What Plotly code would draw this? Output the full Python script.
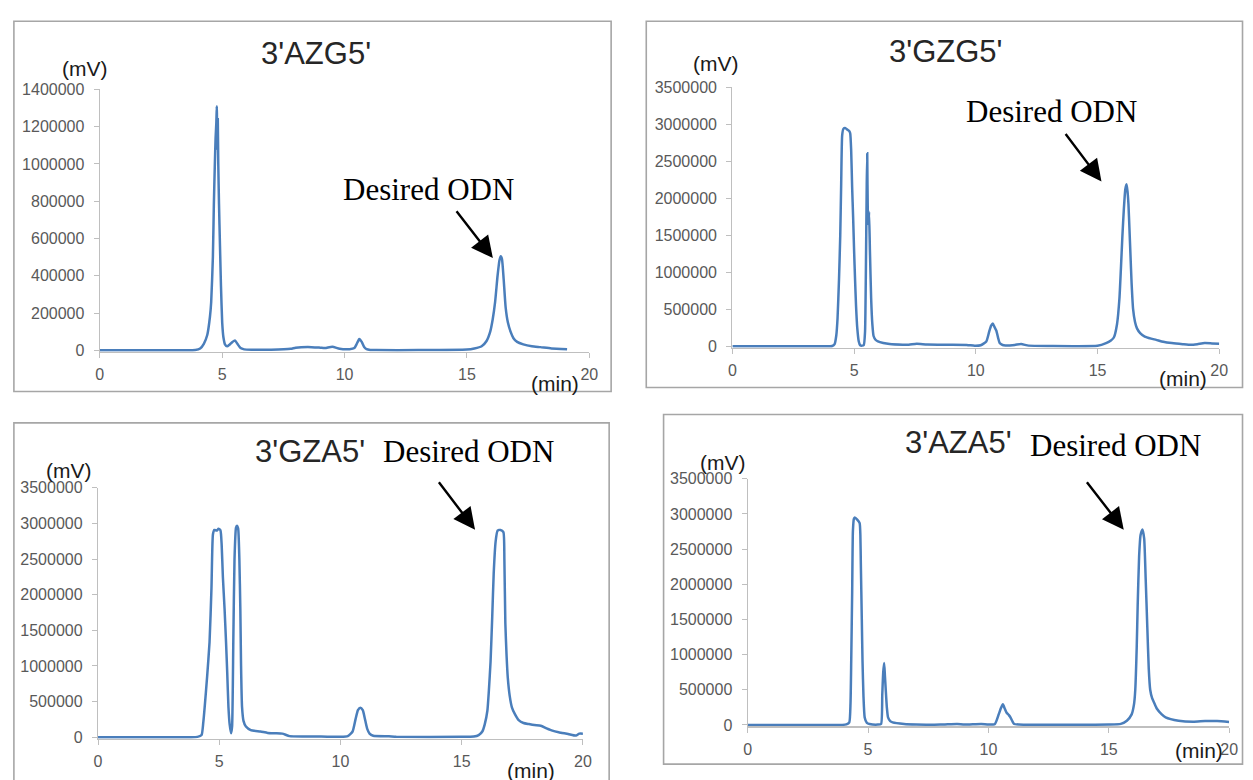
import plotly.graph_objects as go

# ---------------- data ----------------
panel_titles = ["3'AZG5'", "3'GZG5'", "3'GZA5'", "3'AZA5'"]
peak_label = "Desired ODN"
y_unit = "(mV)"
x_unit = "(min)"

x_tick_vals = [0, 5, 10, 15, 20]
x_tick_text = ["0", "5", "10", "15", "20"]
y_ticks_small = [0, 200000, 400000, 600000, 800000, 1000000, 1200000, 1400000]
y_ticks_large = [0, 500000, 1000000, 1500000, 2000000, 2500000, 3000000, 3500000]

azg5_t = [0, 3.5, 3.9, 4.1, 4.25, 4.39, 4.5, 4.55, 4.62, 4.66, 4.7, 4.73, 4.76, 4.78, 4.8, 4.82,
          4.84, 4.87, 4.91, 4.95, 5.0, 5.05, 5.12, 5.2, 5.3, 5.42, 5.52, 5.62, 5.75, 5.9, 6.2,
          7.0, 7.8, 8.0, 8.5, 9.0, 9.2, 9.5, 9.8, 10.2, 10.4, 10.5, 10.6, 10.7, 10.8, 10.9,
          11.05, 11.3, 13.0, 15.0, 15.3, 15.6, 15.8, 15.95, 16.05, 16.15, 16.25, 16.33, 16.38,
          16.43, 16.5, 16.58, 16.67, 16.78, 16.9, 17.05, 17.3, 17.65, 18.0, 18.45, 19.09]
azg5_v = [0, 0, 2000, 10000, 35000, 82000, 180000, 258000, 500000, 785000, 1000000, 1136000,
          1220000, 1310000, 1080000, 1240000, 1000000, 785000, 560000, 346000, 150000, 70000,
          30000, 21000, 30000, 45000, 53000, 35000, 12000, 5000, 3000,
          3000, 8000, 14000, 18000, 14000, 12000, 19000, 8000, 6000, 12000, 35000, 60000, 45000,
          18000, 6000, 2000, 1000, 1000, 4000, 10000, 22000, 50000, 100000, 165000, 260000,
          400000, 485000, 505000, 490000, 380000, 230000, 150000, 100000, 65000, 45000, 32000,
          22000, 17000, 10000, 6000]

gzg5_t = [0, 3.8, 4.1, 4.2, 4.27, 4.32, 4.38, 4.43, 4.47, 4.51, 4.56, 4.63, 4.72, 4.8, 4.84,
          4.88, 4.92, 4.96, 5.0, 5.04, 5.08, 5.13, 5.19, 5.25, 5.33, 5.4, 5.45, 5.49, 5.52, 5.54,
          5.565, 5.59, 5.615, 5.65, 5.7, 5.75, 5.8, 5.88, 5.98, 6.2, 6.46, 7.0, 7.25, 7.57, 8.0,
          8.84, 9.63, 9.95, 10.2, 10.43, 10.55, 10.63, 10.7, 10.77, 10.84, 10.92, 10.98, 11.1,
          11.22, 11.6, 11.86, 12.17, 13.0, 15.0, 15.35, 15.55, 15.67, 15.8, 15.9, 15.96, 16.02,
          16.08, 16.14, 16.19, 16.23, 16.27, 16.31, 16.35, 16.4, 16.46, 16.54, 16.62, 16.75,
          16.94, 17.2, 17.41, 17.7, 18.05, 18.5, 18.84, 19.1, 19.4, 19.7, 20.0]
gzg5_v = [0, 0, 5000, 30000, 150000, 376000, 900000, 1481000, 2200000, 2850000, 2940000,
          2953000, 2930000, 2910000, 2880000, 2650000, 2150000, 1750000, 1300000, 900000, 550000,
          250000, 70000, 15000, 10000, 20000, 200000, 1200000, 2200000, 2610000, 1750000,
          1650000, 1820000, 1300000, 650000, 300000, 140000, 90000, 66000, 45000, 31000, 22000,
          22000, 35000, 25000, 22000, 20000, 8000, 15000, 66000, 200000, 280000, 309000, 260000,
          215000, 110000, 44000, 18000, 13000, 20000, 31000, 10000, 5000, 8000, 44000, 80000,
          120000, 300000, 650000, 1050000, 1481000, 1850000, 2120000, 2190000, 2100000, 1923000,
          1600000, 1260000, 850000, 508000, 330000, 243000, 180000, 133000, 105000, 88000, 62000,
          44000, 30000, 22000, 30000, 44000, 40000, 35000]

gza5_t = [0, 3.8, 4.1, 4.27, 4.34, 4.4, 4.5, 4.6, 4.68, 4.74, 4.8, 4.9, 4.97, 5.05, 5.1, 5.15,
          5.22, 5.28, 5.33, 5.38, 5.43, 5.49, 5.53, 5.58, 5.63, 5.69, 5.73, 5.78, 5.83, 5.87,
          5.9, 5.94, 6.0, 6.1, 6.3, 6.7, 7.0, 7.3, 7.6, 7.9, 8.5, 9.2, 10.0, 10.3, 10.5, 10.62,
          10.72, 10.82, 10.92, 11.0, 11.1, 11.2, 11.35, 12.0, 12.3, 15.0, 15.5, 15.7, 15.85,
          15.95, 16.06, 16.12, 16.19, 16.26, 16.32, 16.4, 16.48, 16.6, 16.72, 16.76, 16.8,
          16.85, 16.9, 16.98, 17.07, 17.2, 17.35, 17.55, 17.77, 18.0, 18.26, 18.5, 18.74, 19.0,
          19.39, 19.71, 19.85, 20.0]
gza5_v = [0, 0, 5000, 30000, 200000, 425000, 850000, 1335000, 2100000, 2850000, 2910000,
          2900000, 2925000, 2905000, 2700000, 2250000, 1800000, 1335000, 900000, 420000, 180000,
          55000, 150000, 1335000, 2500000, 2940000, 2970000, 2930000, 2500000, 1800000, 1000000,
          425000, 230000, 150000, 100000, 80000, 60000, 55000, 50000, 15000, 10000, 10000, 5000,
          15000, 80000, 250000, 380000, 415000, 380000, 270000, 120000, 50000, 20000, 12000,
          5000, 5000, 10000, 30000, 80000, 180000, 375000, 650000, 1060000, 1700000, 2300000,
          2750000, 2900000, 2910000, 2880000, 2500000, 1600000, 1150000, 840000, 580000, 420000,
          320000, 240000, 200000, 184000, 170000, 161000, 125000, 92000, 70000, 46000, 23000,
          50000, 50000]

aza5_t = [0, 3.93, 4.1, 4.22, 4.27, 4.3, 4.34, 4.37, 4.41, 4.45, 4.55, 4.65, 4.68, 4.7, 4.74,
          4.77, 4.81, 4.86, 4.95, 5.06, 5.4, 5.54, 5.59, 5.63, 5.67, 5.7, 5.73, 5.78, 5.83, 5.92,
          6.02, 6.5, 7.0, 8.0, 8.7, 9.0, 9.7, 10.0, 10.27, 10.43, 10.52, 10.6, 10.68, 10.75,
          10.85, 10.91, 11.0, 11.07, 11.5, 15.0, 15.5, 15.75, 15.95, 16.05, 16.1, 16.16, 16.2,
          16.26, 16.32, 16.4, 16.47, 16.53, 16.6, 16.66, 16.72, 16.8, 16.88, 17.0, 17.2, 17.36,
          17.9, 18.5, 19.0, 19.5, 20.0]
aza5_v = [0, 0, 8000, 37000, 300000, 897000, 1900000, 2756000, 2930000, 2950000, 2920000,
          2870000, 2700000, 2290000, 1500000, 897000, 400000, 107000, 30000, 14000, 5000, 14000,
          432000, 750000, 880000, 700000, 525000, 250000, 107000, 55000, 37000, 15000, 8000,
          5000, 15000, 5000, 15000, 5000, 14000, 153000, 240000, 293000, 230000, 176000, 140000,
          110000, 50000, 14000, 3000, 5000, 15000, 60000, 150000, 300000, 500000, 1100000,
          1700000, 2400000, 2700000, 2780000, 2650000, 2100000, 1390000, 800000, 500000, 380000,
          320000, 230000, 150000, 107000, 60000, 45000, 55000, 55000, 42000]

series_t = [azg5_t, gzg5_t, gza5_t, aza5_t]
series_v = [azg5_v, gzg5_v, gza5_v, aza5_v]
series_yticks = [y_ticks_small, y_ticks_large, y_ticks_large, y_ticks_large]

# ---------------- layout geometry (pixels of the 1253x780 page) ----------------
W, H = 1253, 780
BLUE = "#4A7EBB"
AXIS = "#BFBFBF"
TICKFONT = dict(family="Liberation Sans, Arial, sans-serif", size=16, color="#595959")

# per panel: x-pixel of t=0, x-pixel of t=20, y-pixel of v=0, y-pixel of v=max (page pixels)
geom = [
    dict(px0=96.8, px1=591.5, py0=349.0, pym=83.0, box=(10, 13.5, 613.5, 391)),
    dict(px0=736.0, px1=1228.0, py0=345.0, pym=81.0, box=(649, 13.5, 1251.5, 387)),
    dict(px0=95.0, px1=585.0, py0=743.5, pym=489.3, box=(10, 423, 611.5, 795)),
    dict(px0=751.5, px1=1238.0, py0=731.0, pym=480.0, box=(666.5, 414.5, 1251.5, 771)),
]
texts = [
    dict(title=(315, 46), mv=(82, 62), mn=(557, 383), odn=(429, 185), arr=((456.5, 206.7), (494, 255))),
    dict(title=(951, 44), mv=(719, 57), mn=(1191, 378), odn=(1058, 106), arr=((1072, 128), (1109, 177))),
    dict(title=(309, 452), mv=(66, 472), mn=(533, 777), odn=(469, 452), arr=((438.7, 483), (476, 532))),
    dict(title=(965, 443), mv=(727, 463), mn=(1208, 757), odn=(1123, 446), arr=((1093.5, 483), (1131.5, 532))),
]

def px(x):
    return x / W

def py(y):
    return 1 - y / H

fig = go.Figure()
layout = dict(width=W, height=H, margin=dict(l=0, r=0, t=0, b=0),
              paper_bgcolor="white", plot_bgcolor="white", showlegend=False)
shapes = []
annotations = []
PAD = 1.5

for i in range(4):
    g = geom[i]
    ticks = series_yticks[i]
    vmax = ticks[-1]
    per_px = vmax / (g["py0"] - g["pym"])
    lo = -PAD * per_px
    suf = "" if i == 0 else str(i + 1)
    fig.add_trace(go.Scatter(
        x=series_t[i], y=series_v[i], mode="lines",
        line=dict(color=BLUE, width=2.5, shape="spline", smoothing=0.5),
        xaxis="x" + suf, yaxis="y" + suf, hoverinfo="skip"))
    layout["xaxis" + suf] = dict(
        domain=[px(g["px0"]), px(g["px1"])], range=[0, 20], anchor="y" + suf,
        tickvals=x_tick_vals, ticktext=x_tick_text, ticks="outside", ticklen=5,
        tickcolor=AXIS, showline=True, linecolor=AXIS, linewidth=1.2,
        showgrid=False, zeroline=False, tickfont=TICKFONT, ticklabelstandoff=3)
    layout["yaxis" + suf] = dict(
        domain=[py(g["py0"] + PAD), py(g["pym"])], range=[lo, vmax], anchor="x" + suf,
        tickvals=ticks, ticktext=[str(v) for v in ticks], ticks="outside", ticklen=5,
        tickcolor=AXIS, showline=True, linecolor=AXIS, linewidth=1.2,
        showgrid=False, zeroline=False, tickfont=TICKFONT, ticklabelstandoff=6)
    x0, y0, x1, y1 = g["box"]
    shapes.append(dict(type="rect", xref="paper", yref="paper",
                       x0=px(x0), x1=px(x1), y0=py(y1), y1=py(y0),
                       line=dict(color="#A6A6A6", width=1.6)))
    tx = texts[i]
    annotations.append(dict(xref="paper", yref="paper", x=px(tx["title"][0]), y=py(tx["title"][1]),
                            text=panel_titles[i], showarrow=False, xanchor="center", yanchor="middle",
                            font=dict(family="Liberation Sans, Arial, sans-serif", size=31, color="#262626")))
    annotations.append(dict(xref="paper", yref="paper", x=px(tx["mv"][0]), y=py(tx["mv"][1]),
                            text=y_unit, showarrow=False, xanchor="center", yanchor="middle",
                            font=dict(family="Liberation Sans, Arial, sans-serif", size=21, color="#1a1a1a")))
    annotations.append(dict(xref="paper", yref="paper", x=px(tx["mn"][0]), y=py(tx["mn"][1]),
                            text=x_unit, showarrow=False, xanchor="center", yanchor="middle",
                            font=dict(family="Liberation Sans, Arial, sans-serif", size=21, color="#1a1a1a")))
    annotations.append(dict(xref="paper", yref="paper", x=px(tx["odn"][0]), y=py(tx["odn"][1]),
                            text=peak_label, showarrow=False, xanchor="center", yanchor="middle",
                            font=dict(family="Liberation Serif, Times New Roman, serif", size=31, color="black")))
    (tx0, ty0), (hx, hy) = tx["arr"]
    annotations.append(dict(xref="paper", yref="paper", x=px(hx), y=py(hy), text="",
                            showarrow=True, axref="pixel", ayref="pixel",
                            ax=tx0 - hx, ay=ty0 - hy, arrowhead=2, arrowsize=1.8,
                            arrowwidth=2.4, arrowcolor="black", standoff=0))

layout["shapes"] = shapes
layout["annotations"] = annotations
fig.update_layout(**layout)
# remove the default 8px page margin so the 1253x780 figure fills the window exactly
fig.write_html("out.html",
               config={"displayModeBar": False, "staticPlot": True},
               post_script="document.body.style.margin='0';"
                           "document.body.style.overflow='hidden';"
                           "document.documentElement.style.overflow='hidden';")
